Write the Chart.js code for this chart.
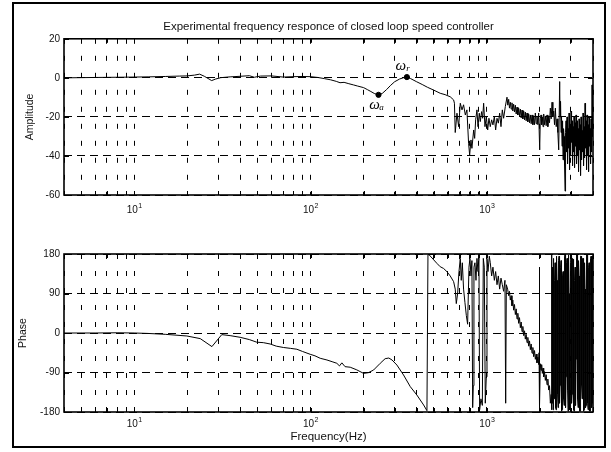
<!DOCTYPE html>
<html>
<head>
<meta charset="utf-8">
<script src="https://cdn.jsdelivr.net/npm/chart.js@4.4.0/dist/chart.umd.min.js"></script>
<style>
  html, body { margin: 0; padding: 0; background: #fff; }
  body { width: 611px; height: 452px; position: relative; overflow: hidden; }
  #frame { position: absolute; left: 12px; top: 2px; width: 590px; height: 442px; border: 2px solid #000; }
  .box { position: absolute; left: 0; width: 611px; }
  #ampBox { top: 0; height: 230px; }
  #phaseBox { top: 230px; height: 222px; }
</style>
</head>
<body>
<div id="frame"></div>
<div class="box" id="ampBox"><canvas id="ampChart"></canvas></div>
<div class="box" id="phaseBox"><canvas id="phaseChart"></canvas></div>
<script>
/* ---------- data ---------- */
const xGridValues = [4, 5, 6, 7, 8, 9, 10, 20, 30, 40, 50, 60, 70, 80, 90,
  100, 200, 300, 400, 500, 600, 700, 800, 900, 1000, 2000, 3000, 4000];
const xTickValues = [10, 100, 1000];
const xTickExp = ['1', '2', '3'];
const ampTicks = [-60, -40, -20, 0, 20];
const phaseTicks = [-180, -90, 0, 90, 180];

const ampFreq = [4, 5, 6, 8, 10, 12, 15, 18, 20, 22, 23.5, 25, 27.5, 29, 31, 35, 40, 45, 48, 52,
  60, 70, 80, 90, 100, 110, 120, 130, 140, 147, 155, 165, 175, 185, 200, 210, 220, 230, 243, 255,
  270, 285, 300, 320, 340, 352, 370, 400, 430, 460, 500, 544, 580, 620, 648,
  655, 662, 677, 692, 707, 723, 738, 755, 771, 788, 799, 813, 823, 842, 853, 864, 879, 891, 906, 918,
  934, 947, 959, 976, 993, 1011, 1028, 1046, 1065, 1083, 1103, 1122, 1142, 1162, 1182, 1203, 1224, 1245, 1273,
  1301, 1315, 1330, 1344, 1359, 1374, 1389, 1404, 1419, 1435, 1451, 1467, 1483, 1499, 1515, 1532, 1549, 1566, 1583, 1600,
  1618, 1636, 1653, 1671, 1690, 1708, 1727, 1746, 1765, 1784, 1804, 1824, 1843, 1864, 1884, 1905, 1925, 1947, 1968, 1994,
  2010, 2029, 2046, 2064, 2083, 2101, 2124, 2147, 2170, 2194, 2218, 2243, 2267, 2292, 2317, 2343, 2368, 2394, 2420, 2447,
  2474, 2501, 2528, 2556, 2589,
  2601, 2618, 2635, 2652, 2670, 2688, 2705, 2723, 2741, 2759, 2777, 2795, 2813, 2832, 2850, 2869, 2888, 2907, 2926, 2945,
  2964, 2984, 3003, 3023, 3043, 3063, 3083, 3103, 3123, 3144, 3164, 3185, 3206, 3227, 3248, 3269, 3291, 3312, 3334, 3356,
  3378, 3400, 3422, 3445, 3467, 3490, 3513, 3536, 3559, 3582, 3606, 3629, 3653, 3677, 3701, 3726, 3750, 3775, 3799, 3824,
  3849, 3875, 3900, 3926, 3951, 3975, 4000];
const ampDb = [0, 0.1, 0.2, 0.3, 0.4, 0.5, 0.7, 0.9, 1.0, 1.4, 1.9, 0.8, -1.4, -0.6, 0.1, 0.5, 0.8, 1.1, 0.3, 0.9,
  1.0, 0.4, 0.6, 0.7, 0.6, 0.2, -0.4, -1.0, -1.8, -2.5, -2.3, -3.0, -3.6, -4.2, -5.0, -6.0, -7.0, -8.0, -8.7, -8.0,
  -6.0, -3.8, -2.0, -0.6, 0.2, 0.4, -0.4, -2.0, -3.4, -4.8, -6.3, -7.9, -8.6, -9.7, -11.3,
  -13.0, -28.0, -18.1, -25.0, -13.0, -16.4, -13.8, -19.0, -16.4, -33.5, -39.5, -31.8, -36.1, -26.7, -31.0, -21.5, -16.4, -25.0, -18.1, -22.4,
  -17.3, -20.7, -13.0, -25.0, -19.8, -26.7, -20.7, -25.0, -21.5, -24.1, -19.8, -26.7, -20.7, -23.2, -18.1, -25.0, -16.4, -20.7, -14.7,
  -9.9, -14, -11, -15.5, -12.5, -16, -12.8, -17, -13.5, -17.5, -14, -18.5, -15, -19, -15.5, -19.5, -16, -20.5, -16.5, -21,
  -17, -21.5, -17.5, -22, -18, -22.5, -18.5, -23, -19, -23.5, -19, -24, -19.5, -24, -18, -23.5, -19.5, -24, -18, -36.9,
  -21, -19, -24, -20, -25, -18.5, -24, -19.5, -24.5, -19, -25, -20, -23, -15.5, -21, -12.5, -20, -17, -24, -15.5,
  -25, -21, -28, -36.9, -1.9,
  -20, -12, -28, -20, -35, -22, -42, -26, -30, -45, -58, -28, -22, -38, -20, -44, -26, -36, -18, -47,
  -24, -40, -17, -33, -22, -45, -25, -38, -20, -46, -23, -35, -19, -44, -22, -40, -26, -48, -21, -37,
  -24, -50, -20, -42, -27, -38, -18, -45, -25, -41, -13, -36, -22, -47, -19, -40, -24, -48, -20, -35,
  -26, -44, -21, -38, -3.6, -30, -22];

const phaseFreq = [4, 6, 8, 10, 12, 15, 19.9, 23.7, 27.6, 31.4, 35, 39.9, 45, 49.6, 54, 59, 64, 70.2, 77, 83.7,
  90, 99.6, 106, 113.5, 124, 134, 141, 146, 150.6, 157, 168, 183, 200, 213, 228, 248.6, 265, 278, 290, 309,
  337, 368, 401, 438, 457.5, 463.6, 471.7, 521, 544, 568.6, 594, 620, 648, 662, 671, 683, 695, 707, 716, 726,
  738, 751, 765, 778, 792, 802, 813, 823, 831, 838, 845, 856, 868, 879, 891, 902, 910, 926, 943, 955,
  967, 980, 993, 1002, 1015, 1033, 1046, 1065, 1083, 1103, 1122, 1142, 1162, 1182, 1203, 1224, 1245, 1267, 1279, 1290,
  1312, 1330, 1344, 1359, 1374, 1389, 1404, 1419, 1435, 1451, 1467, 1483, 1499, 1515, 1532, 1549, 1566, 1583, 1600, 1618,
  1636, 1653, 1671, 1690, 1708, 1727, 1746, 1765, 1784, 1804, 1824, 1843, 1864, 1884, 1905, 1925, 1947, 1968, 1977, 1985,
  1994, 2010, 2029, 2046, 2064, 2083, 2101, 2124, 2147, 2170, 2194, 2218, 2243, 2267, 2292, 2317, 2330, 2335,
  2343, 2358, 2374, 2390, 2405, 2421, 2437, 2453, 2469, 2485, 2501, 2518, 2534, 2551, 2568, 2584, 2601, 2618, 2635, 2652,
  2670, 2688, 2705, 2723, 2741, 2759, 2777, 2795, 2813, 2832, 2850, 2869, 2888, 2907, 2926, 2945, 2964, 2984, 3003, 3023,
  3043, 3063, 3083, 3103, 3123, 3144, 3164, 3185, 3206, 3227, 3248, 3269, 3291, 3312, 3334, 3356, 3378, 3400, 3422, 3445,
  3467, 3490, 3513, 3536, 3559, 3582, 3606, 3629, 3653, 3677, 3701, 3726, 3750, 3775, 3799, 3824, 3849, 3875, 3900, 3926,
  3951, 3975, 4000];
const phaseDeg = [0, 0, 0.5, 0, -1, -3, -6.8, -12.8, -31, -3.7, -6, -9.8, -15, -21, -22, -25, -30, -33, -35, -37,
  -42, -48.5, -52, -57.6, -61.5, -66, -69, -75, -68, -76.7, -78, -84, -92, -90.4, -84.3, -69, -58.5, -57, -61.5, -73,
  -95.7, -122.3, -141.3, -164, -177, 179, 177.7, 158.7, 151, 147, 139.7, 130, 117, 100, 67, 90, 140, 170, 120, 160,
  100, 70, 40, 20, 150, 170, 130, 165, -170, -120, 150, 160, 120, 170, 140, 175, -175, -150, -165, 170,
  150, -160, -100, 170, 140, 175, 160, 130, 150, 120, 140, 110, 130, 100, 125, 110, 95, 120, -160, 110,
  100, 85, 95, 75, 85, 62, 75, 52, 65, 42, 55, 32, 45, 22, 35, 12, 25, 3, 15, -6,
  5, -14, -3, -22, -10, -30, -18, -38, -25, -46, -33, -54, -40, -60, -48, -68, -55, -72, -45, 150,
  -168, -70, -85, -72, -92, -80, -100, -88, -108, -95, -118, -105, -130, -120, -160, -140, -175, 178,
  -160, 150, -175, 170, -150, 120, 160, -170, -175, 175, 120, -140, -170, 165, 175, -160, -120, 150, 165, -178,
  -175, 130, 140, -150, -165, 175, 178, -170, -100, 160, 170, -130, -178, 178, 90, -175, -170, 160, 175, -160,
  -140, 170, 168, -175, -178, 120, 150, -165, -60, 178, 178, -150, -170, 165, 130, -178, -178, 175, 175, -120,
  -150, 170, 170, -178, -175, 160, 100, -170, -165, 178, 178, -160, -175, 150, 160, -178, -178, 170, 175, -170,
  -160, 175, 170];

const markerFreq = [243, 352];
const markerDb = [-8.7, 0.4];
const markerSub = ['a', 'r'];

/* ---------- helpers ---------- */
const FONT = 'Liberation Sans, Arial, sans-serif';

function xy(xs, ys) { return xs.map((x, i) => ({ x, y: ys[i] })); }

function xScale(height, showTitle) {
  return {
    type: 'logarithmic',
    min: 4,
    max: 4000,
    afterBuildTicks: s => { s.ticks = xGridValues.map(v => ({ value: v })); },
    afterFit: s => { s.height = height; },
    // decade labels (10 with a raised exponent) are drawn by the decadeLabels plugin
    ticks: { autoSkip: false, maxRotation: 0, display: false },
    grid: { color: '#000', lineWidth: 1, drawTicks: false },
    border: { display: false, dash: [5, 12] },
    title: {
      display: showTitle,
      text: 'Frequency(Hz)',
      color: '#111',
      font: { family: FONT, size: 11.5 },
      padding: { top: 0, bottom: 8 }
    }
  };
}

function yScale(min, max, ticks, label, titlePad) {
  return {
    min, max,
    afterBuildTicks: s => { s.ticks = ticks.map(v => ({ value: v })); },
    afterFit: s => { s.width = 64; },
    ticks: { padding: 4, color: '#111', font: { family: FONT, size: 10 } },
    grid: { color: '#000', lineWidth: 1, drawTicks: false },
    border: { display: false, dash: [8, 5] },
    title: {
      display: true,
      text: label,
      color: '#111',
      font: { family: FONT, size: 10.5 },
      padding: { top: titlePad, bottom: 0 }
    }
  };
}

// solid axes box with small inward tick marks, drawn over everything
const axesBox = {
  id: 'axesBox',
  afterDraw(chart) {
    const { ctx, chartArea: a, scales } = chart;
    ctx.save();
    ctx.setLineDash([]);
    ctx.strokeStyle = '#000';
    ctx.lineWidth = 1;
    ctx.beginPath();
    scales.x.ticks.forEach(t => {
      const px = Math.round(scales.x.getPixelForValue(t.value)) + 0.5;
      ctx.moveTo(px, a.bottom); ctx.lineTo(px, a.bottom - 4);
      ctx.moveTo(px, a.top); ctx.lineTo(px, a.top + 4);
    });
    scales.y.ticks.forEach(t => {
      const py = Math.round(scales.y.getPixelForValue(t.value)) + 0.5;
      ctx.moveTo(a.left, py); ctx.lineTo(a.left + 5, py);
      ctx.moveTo(a.right, py); ctx.lineTo(a.right - 5, py);
    });
    ctx.stroke();
    ctx.lineWidth = 1.6;
    ctx.strokeRect(a.left, a.top, a.right - a.left, a.bottom - a.top);
    ctx.restore();
  }
};

// "10" with superscript exponent under each decade
const decadeLabels = {
  id: 'decadeLabels',
  afterDraw(chart, args, opts) {
    const { ctx, chartArea: a, scales } = chart;
    ctx.save();
    ctx.fillStyle = '#111';
    ctx.textBaseline = 'alphabetic';
    ctx.textAlign = 'left';
    xTickValues.forEach((v, i) => {
      const px = scales.x.getPixelForValue(v);
      ctx.font = '10px ' + FONT;
      const wb = ctx.measureText('10').width;
      ctx.font = '7px ' + FONT;
      const we = ctx.measureText(xTickExp[i]).width;
      const x0 = px - (wb + we) / 2;
      ctx.font = '10px ' + FONT;
      ctx.fillText('10', x0, a.bottom + opts.baseline);
      ctx.font = '7px ' + FONT;
      ctx.fillText(xTickExp[i], x0 + wb + 0.5, a.bottom + opts.baseline - 5);
    });
    ctx.restore();
  }
};

// omega labels next to the two marked points
const omegaLabels = {
  id: 'omegaLabels',
  afterDatasetsDraw(chart) {
    const { ctx, scales } = chart;
    ctx.save();
    ctx.fillStyle = '#000';
    ctx.textBaseline = 'middle';
    ctx.textAlign = 'center';
    markerFreq.forEach((f, i) => {
      const px = scales.x.getPixelForValue(f);
      const py = scales.y.getPixelForValue(markerDb[i]);
      const up = markerSub[i] === 'r';
      const ox = up ? px - 6 : px - 4;
      const oy = up ? py - 11 : py + 10;
      ctx.font = 'italic 15px Liberation Serif, serif';
      ctx.fillText('\u03C9', ox, oy);
      ctx.font = 'italic 9px Liberation Serif, serif';
      ctx.fillText(markerSub[i], ox + 7, oy + 3);
    });
    ctx.restore();
  }
};

const common = {
  responsive: true,
  maintainAspectRatio: false,
  animation: false,
  devicePixelRatio: 1,
  events: [],
  elements: { point: { radius: 0 }, line: { borderWidth: 1, tension: 0 } }
};

/* ---------- amplitude ---------- */
new Chart(document.getElementById('ampChart'), {
  type: 'line',
  data: {
    datasets: [
      { data: xy(ampFreq, ampDb), borderColor: '#000', borderWidth: 1, pointRadius: 0 },
      { type: 'scatter', data: xy(markerFreq, markerDb), pointRadius: 2.6, backgroundColor: '#000', borderColor: '#000', showLine: false }
    ]
  },
  options: Object.assign({}, common, {
    layout: { padding: { left: 0, right: 18, top: 0, bottom: 0 } },
    plugins: {
      legend: { display: false },
      tooltip: { enabled: false },
      decadeLabels: { baseline: 18 },
      title: {
        display: true,
        fullSize: false,
        text: 'Experimental frequency responce of closed loop speed controller',
        color: '#111',
        font: { family: FONT, size: 11.5, weight: 'normal' },
        padding: { top: 20, bottom: 5 }
      }
    },
    scales: {
      x: xScale(35, false),
      y: yScale(-60, 20, ampTicks, 'Amplitude', 24)
    }
  }),
  plugins: [axesBox, omegaLabels, decadeLabels]
});

/* ---------- phase ---------- */
new Chart(document.getElementById('phaseChart'), {
  type: 'line',
  data: {
    datasets: [
      { data: xy(phaseFreq, phaseDeg), borderColor: '#000', borderWidth: 1, pointRadius: 0 }
    ]
  },
  options: Object.assign({}, common, {
    layout: { padding: { left: 0, right: 18, top: 24, bottom: 0 } },
    plugins: { legend: { display: false }, tooltip: { enabled: false }, decadeLabels: { baseline: 15 } },
    scales: {
      x: xScale(40, true),
      y: yScale(-180, 180, phaseTicks, 'Phase', 17)
    }
  }),
  plugins: [axesBox, decadeLabels]
});
</script>
</body>
</html>
